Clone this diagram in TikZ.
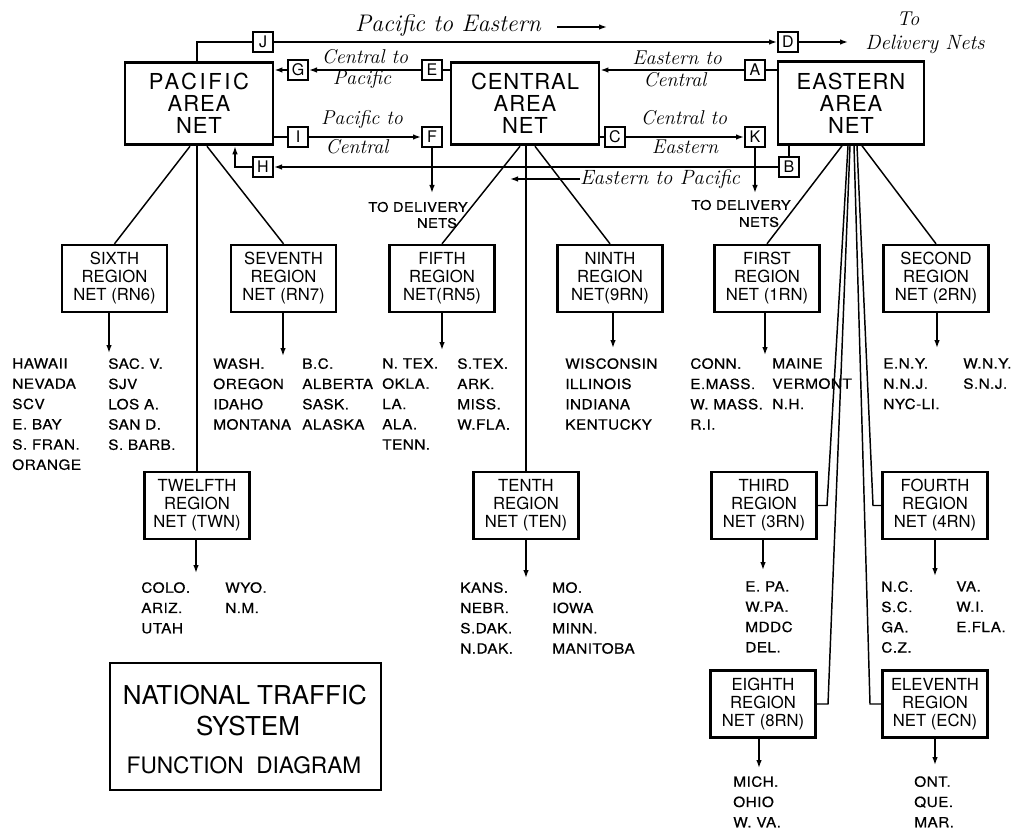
\documentclass[tikz,border=0pt]{standalone}
\usepackage{fontspec}
\newfontfamily\hv{TeX Gyre Heros}
\newfontfamily\hvs[LetterSpace=4]{TeX Gyre Heros}
\newfontfamily\lsf[FakeStretch=1.1,LetterSpace=3,FakeBold=0.5]{TeX Gyre Heros}
\usetikzlibrary{arrows.meta}
\begin{document}
\begin{tikzpicture}[x=0.75pt,y=-0.75pt,
  conn/.style={line width=1.1pt},
  arr/.style={-{Latex[length=6pt,width=4.2pt]}},
  area/.style={draw,line width=2.2pt,minimum width=111pt,minimum height=62pt,inner sep=0pt,align=center,font=\hvs\fontsize{16.5}{16.5}\selectfont},
  region/.style={draw,line width=1.8pt,minimum width=78.75pt,minimum height=50.25pt,inner sep=0pt,align=center,font=\hv\fontsize{12.5}{13.5}\selectfont},
  lbox/.style={draw,line width=1.5pt,minimum size=15pt,inner sep=0pt,font=\hv\fontsize{12}{12}\selectfont},
  lst/.style={anchor=north west,inner sep=0pt,align=left,font=\lsf\fontsize{10.5}{15.2}\selectfont},
  ital/.style={inner sep=0pt,font=\itshape\fontsize{15}{15}\selectfont},
  deliv/.style={inner sep=0pt,font=\lsf\fontsize{10}{10}\selectfont},
  legtxt/.style={inner sep=0pt,font=\hv\fontsize{19.5}{19.5}\selectfont}
]
\useasboundingbox (0,0) rectangle (1013,834);

% area nets
\node[area] (pac) at (199,103.5) {{\addfontfeature{LetterSpace=12}PACIFIC}\\AREA\\NET};
\node[area] (cen) at (525,103.5) {CENTRAL\\AREA\\NET};
\node[area,minimum width=109.5pt] (eas) at (851,103) {EASTERN\\AREA\\NET};

% letter boxes
\node[lbox] (J) at (263,42) {J};
\node[lbox] (D) at (788,42) {D};
\node[lbox] (G) at (298,70) {G};
\node[lbox] (E) at (432,70) {E};
\node[lbox] (A) at (755,70) {A};
\node[lbox] (I) at (298,137) {I};
\node[lbox] (F) at (432,137) {F};
\node[lbox] (C) at (615,137) {C};
\node[lbox] (K) at (755,137) {K};
\node[lbox] (H) at (263,167) {H};
\node[lbox] (B) at (789,167) {B};

% italic labels
\node[ital,font=\itshape\fontsize{18}{18}\selectfont] (pte) at (448,26) {Pacific to Eastern};
\coordinate (pa1) at (557,27); \coordinate (pa2) at (607,27);
\draw[conn,arr] (pa1) -- (pa2);
\node[ital] (to1) at (908,19) {To};
\node[ital,font=\itshape\fontsize{15.5}{15.5}\selectfont] (dn1) at (925,44) {Delivery Nets};
\node[ital] (ctp1) at (365,57) {Central to};
\node[ital] (ctp2) at (362,80) {Pacific};
\node[ital] (ptc1) at (362,120) {Pacific to};
\node[ital] (ptc2) at (357,147) {Central};
\node[ital] (etc1) at (677,58) {Eastern to};
\node[ital] (etc2) at (675,80) {Central};
\node[ital] (cte1) at (684,118) {Central to};
\node[ital] (cte2) at (685,147) {Eastern};
\node[ital,font=\itshape\fontsize{15.5}{15.5}\selectfont] (etp) at (660,179) {Eastern to Pacific};
\coordinate (ep) at (510,179);
\draw[conn,arr] (etp.west) -- (ep);

% delivery labels
\node[deliv] (dl1) at (418,207) {TO DELIVERY};
\node[deliv] (dl2) at (437,223) {NETS};
\node[deliv] (dl3) at (741,205) {TO DELIVERY};
\node[deliv] (dl4) at (759,222) {NETS};

% interconnections
\coordinate (j0) at (197,42);
\draw[conn] (pac.north -| j0) -- (j0) -- (J);
\draw[conn,arr] (J) -- (D);
\coordinate (dend) at (848,42);
\draw[conn,arr] (D) -- (dend);
\draw[conn] (cen.west |- E) -- (E);
\draw[conn,arr] (E) -- (G);
\draw[conn,arr] (G) -- (pac.east |- G);
\draw[conn] (pac.east |- I) -- (I);
\draw[conn,arr] (I) -- (F);
\coordinate (fd) at (432,193);
\draw[conn,arr] (F) -- (fd);
\draw[conn] (eas.west |- A) -- (A);
\draw[conn,arr] (A) -- (cen.east |- A);
\draw[conn] (cen.east |- C) -- (C);
\draw[conn,arr] (C) -- (K);
\coordinate (kd) at (755,193);
\draw[conn,arr] (K) -- (kd);
\draw[conn] (eas.south -| B) -- (B);
\draw[conn,arr] (B) -- (H);
\coordinate (hc) at (235,167);
\draw[conn,arr] (H) -- (hc) -- (pac.south -| hc);

% region nets
\node[region] (r6) at (114.5,278.5) {SIXTH\\REGION\\NET (RN6)};
\node[region] (r7) at (283.5,278.5) {SEVENTH\\REGION\\NET (RN7)};
\node[region] (r5) at (442,278.5) {FIFTH\\REGION\\NET(RN5)};
\node[region] (r9) at (610,278.5) {NINTH\\REGION\\NET(9RN)};
\node[region] (r1) at (767,278.5) {FIRST\\REGION\\NET (1RN)};
\node[region] (r2) at (936,278.5) {SECOND\\REGION\\NET (2RN)};
\node[region] (r12) at (197,505.5) {TWELFTH\\REGION\\NET (TWN)};
\node[region] (r10) at (526,505.5) {TENTH\\REGION\\NET (TEN)};
\node[region] (r3) at (764,505.5) {THIRD\\REGION\\NET (3RN)};
\node[region] (r4) at (935,505.5) {FOURTH\\REGION\\NET (4RN)};
\node[region] (r8) at (763,704) {EIGHTH\\REGION\\NET (8RN)};
\node[region] (r11) at (935,704) {ELEVENTH\\REGION\\NET (ECN)};

% tree lines
\draw[conn] ([xshift=-6.75pt]pac.south) -- (r6.north);
\draw[conn] ([xshift=6pt]pac.south) -- (r7.north);
\draw[conn] (pac.south -| r12.north) -- (r12.north);
\draw[conn] ([xshift=-3.75pt]cen.south) -- (r5.north);
\draw[conn] ([xshift=7.5pt]cen.south) -- (r9.north);
\draw[conn] (cen.south -| r10.north) -- (r10.north);
\draw[conn] ([xshift=-6.75pt]eas.south) -- (r1.north);
\draw[conn] ([xshift=8.25pt]eas.south) -- (r2.north);
\coordinate (c3) at (827,505.5);
\coordinate (c8) at (828,704);
\coordinate (c11) at (870,704);
\coordinate (c4) at (873,505.5);
\draw[conn] ([xshift=-2.25pt]eas.south) -- (c3) -- (r3.east);
\draw[conn] ([xshift=-0.75pt]eas.south) -- (c8) -- (r8.east);
\draw[conn] ([xshift=2.25pt]eas.south) -- (c11) -- (r11.west);
\draw[conn] ([xshift=4.5pt]eas.south) -- (c4) -- (r4.west);

% arrows to lists
\coordinate (t6) at (109,353);
\coordinate (t7) at (283,356);
\coordinate (t5) at (442,350);
\coordinate (t9) at (613,348);
\coordinate (t1) at (765,355);
\coordinate (t2) at (937,348);
\coordinate (t12) at (196,573);
\coordinate (t10) at (526,578);
\coordinate (t3) at (763,570);
\coordinate (t4) at (935,576);
\coordinate (t8) at (759,768);
\coordinate (t11) at (935,765);
\foreach \r/\t in {r6/t6,r7/t7,r5/t5,r9/t9,r1/t1,r2/t2,r12/t12,r10/t10,r3/t3,r4/t4,r8/t8,r11/t11}
  \draw[conn,arr] (\r.south -| \t) -- (\t);

% lists
\node[lst] (l6a) at (12,358) {HAWAII\\NEVADA\\SCV\\E. BAY\\S. FRAN.\\ORANGE};
\node[lst] (l6b) at (108,358) {SAC. V.\\SJV\\LOS A.\\SAN D.\\S. BARB.};
\node[lst] (l7a) at (213,358) {WASH.\\OREGON\\IDAHO\\MONTANA};
\node[lst] (l7b) at (302,358) {B.C.\\ALBERTA\\SASK.\\ALASKA};
\node[lst] (l5a) at (382,358) {N. TEX.\\OKLA.\\LA.\\ALA.\\TENN.};
\node[lst] (l5b) at (457,358) {S.TEX.\\ARK.\\MISS.\\W.FLA.};
\node[lst] (l9) at (565,358) {WISCONSIN\\ILLINOIS\\INDIANA\\KENTUCKY};
\node[lst] (l1a) at (690,358) {CONN.\\E.MASS.\\W. MASS.\\R.I.};
\node[lst] (l1b) at (772,358) {MAINE\\VERMONT\\N.H.};
\node[lst] (l2a) at (883,358) {E.N.Y.\\N.N.J.\\NYC-LI.};
\node[lst] (l2b) at (963,358) {W.N.Y.\\S.N.J.};
\node[lst] (l12a) at (141,582) {COLO.\\ARIZ.\\UTAH};
\node[lst] (l12b) at (225,582) {WYO.\\N.M.};
\node[lst] (l10a) at (460,582) {KANS.\\NEBR.\\S.DAK.\\N.DAK.};
\node[lst] (l10b) at (552,582) {MO.\\IOWA\\MINN.\\MANITOBA};
\node[lst] (l3) at (745,581) {E. PA.\\W.PA.\\MDDC\\DEL.};
\node[lst] (l4a) at (881,581) {N.C.\\S.C.\\GA.\\C.Z.};
\node[lst] (l4b) at (956,581) {VA.\\W.I.\\E.FLA.};
\node[lst] (l8) at (733,776) {MICH.\\OHIO\\W. VA.};
\node[lst] (l11) at (914,776) {ONT.\\QUE.\\MAR.};

% legend
\node[draw,line width=1.1pt,minimum width=203.25pt,minimum height=95.25pt,inner sep=0pt] (leg) at (245.5,726.5) {};
\node[legtxt] (lg1) at (245,695) {NATIONAL TRAFFIC};
\node[legtxt] (lg2) at (248,726) {SYSTEM};
\node[legtxt,font=\hv\fontsize{17}{17}\selectfont] (lg3) at (244,765) {FUNCTION\ \ DIAGRAM};
\end{tikzpicture}
\end{document}
